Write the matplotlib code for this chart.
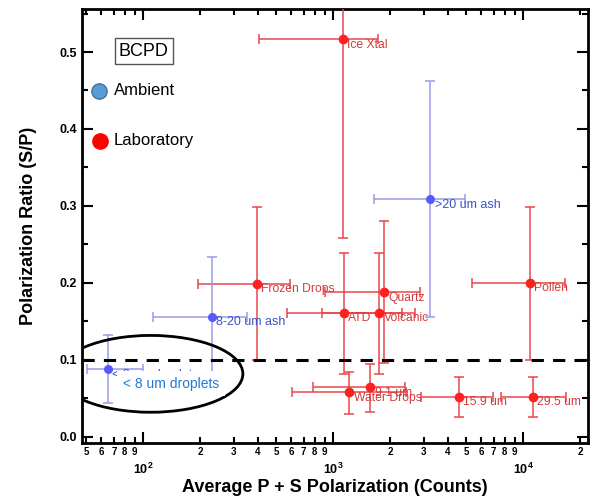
import numpy as np
import matplotlib
matplotlib.use("Agg")
import matplotlib.pyplot as plt
from matplotlib.patches import Ellipse
from matplotlib.ticker import LogLocator, FuncFormatter, MultipleLocator, LogFormatterMathtext

# ---- data ----
# laboratory samples (red)
lab_names = ["Ice Xtal", "Frozen Drops", "Quartz", "ATD", "Volcanic",
             "Pollen", "Water Drops", "9.1 um", "15.9 um", "29.5 um"]
lab_x = [1130, 396, 1860, 1140, 1750, 10800, 1216, 1570, 4580, 11300]
lab_y = [0.517, 0.199, 0.188, 0.161, 0.161, 0.200, 0.058, 0.064, 0.052, 0.052]
lab_x_lo = [405, 195, 908, 571, 875, 5370, 607, 783, 2900, 7600]
lab_x_hi = [1730, 592, 2850, 2290, 2690, 16500, 2430, 2375, 6900, 16700]
lab_y_lo = [0.258, 0.100, 0.096, 0.082, 0.081, 0.100, 0.030, 0.032, 0.026, 0.026]
lab_y_hi = [0.600, 0.299, 0.281, 0.239, 0.239, 0.299, 0.084, 0.095, 0.078, 0.078]

# ambient samples (blue)
amb_names = [">20 um ash", "8-20 um ash", "< 8 um droplets"]
amb_x = [3250, 229, 65.3]
amb_y = [0.309, 0.156, 0.088]
amb_x_lo = [1630, 113, 50.6]
amb_x_hi = [4930, 351, 100]
amb_y_lo = [0.156, 0.075, 0.044]
amb_y_hi = [0.462, 0.234, 0.132]

threshold = 0.1
# --------------------------------------


def err(vals, lo, hi):
    vals = np.asarray(vals)
    return [vals - np.asarray(lo), np.asarray(hi) - vals]


def main():
    plt.rcParams["font.family"] = ["Liberation Sans", "DejaVu Sans"]

    fig = plt.figure(figsize=(5.93, 4.97), dpi=100)
    ax = fig.add_axes([0.138, 0.109, 0.854, 0.873])

    # --- error bars + points ---
    ax.errorbar(lab_x, lab_y,
                xerr=err(lab_x, lab_x_lo, lab_x_hi),
                yerr=err(lab_y, lab_y_lo, lab_y_hi),
                fmt="o", color="#ff2020", ecolor="#e8464b", elinewidth=1.1,
                capsize=3.5, capthick=1.1, markersize=6, zorder=3)
    ax.errorbar(amb_x, amb_y,
                xerr=err(amb_x, amb_x_lo, amb_x_hi),
                yerr=err(amb_y, amb_y_lo, amb_y_hi),
                fmt="o", color="#5858ff", ecolor="#9a9ae6", elinewidth=1.1,
                capsize=3.5, capthick=1.1, markersize=5.5, zorder=3)

    for name, x, y in zip(lab_names, lab_x, lab_y):
        ax.annotate(name, (x, y), xytext=(3, -4), textcoords="offset points",
                    color="#d63a3a", fontsize=8.7, va="center", ha="left", zorder=4)
    for name, x, y in zip(amb_names, amb_x, amb_y):
        ax.annotate(name, (x, y), xytext=(3, -4), textcoords="offset points",
                    color="#3a52c0", fontsize=9, va="center", ha="left", zorder=4)

    # threshold line
    ax.axhline(threshold, color="black", lw=2.2, ls=(0, (4, 3)), zorder=5)

    # circled region of small droplets
    ell = Ellipse((0.136, 0.159), 0.364, 0.177, transform=ax.transAxes,
                  fill=False, ec="black", lw=2, zorder=6)
    ax.add_patch(ell)
    ax.text(0.081, 0.136, "< 8 um droplets", transform=ax.transAxes,
            color="#1f7ad6", fontsize=10, va="center", ha="left", zorder=6,
            bbox=dict(facecolor="white", edgecolor="none", pad=4))

    # --- legend-like annotations ---
    ax.text(0.122, 0.903, "BCPD", transform=ax.transAxes, fontsize=13,
            ha="center", va="center",
            bbox=dict(facecolor="white", edgecolor="#555555", lw=1, pad=3))
    ax.plot([0.034], [0.811], "o", transform=ax.transAxes, ms=11,
            mfc="#5b9bd5", mec="#41719c", clip_on=False)
    ax.text(0.063, 0.811, "Ambient", transform=ax.transAxes, fontsize=12,
            ha="left", va="center")
    ax.plot([0.036], [0.696], "o", transform=ax.transAxes, ms=11,
            mfc="#ff0000", mec="#ff0000", clip_on=False)
    ax.text(0.063, 0.696, "Laboratory", transform=ax.transAxes, fontsize=12,
            ha="left", va="center")

    # --- axes ---
    ax.set_xscale("log")
    ax.set_xlim(47.5, 22000)
    ax.set_ylim(-0.008, 0.556)

    ax.xaxis.set_major_locator(LogLocator(base=10))
    ax.xaxis.set_minor_locator(LogLocator(base=10, subs=np.arange(2, 10)))
    ax.xaxis.set_major_formatter(LogFormatterMathtext())
    ax.xaxis.set_minor_formatter(
        FuncFormatter(lambda v, p: "%d" % round(v / 10 ** np.floor(np.log10(v) + 1e-9))))
    ax.yaxis.set_major_locator(MultipleLocator(0.1))
    ax.yaxis.set_minor_locator(MultipleLocator(0.05))
    ax.yaxis.set_major_formatter(FuncFormatter(lambda v, p: "%.1f" % v))

    ax.tick_params(which="both", direction="in", top=True, right=True, width=1.5)
    ax.tick_params(which="major", length=8)
    ax.tick_params(which="minor", length=4)
    ax.tick_params(axis="x", which="major", pad=14, labelsize=9)
    ax.tick_params(axis="x", which="minor", pad=3, labelsize=7)
    ax.tick_params(axis="y", which="major", labelsize=9)
    for lbl in ax.get_xticklabels(minor=True) + ax.get_yticklabels():
        lbl.set_fontweight("bold")
    for lbl in ax.get_xticklabels():
        lbl.set_fontweight("bold")

    for sp in ax.spines.values():
        sp.set_linewidth(2)

    ax.set_xlabel("Average P + S Polarization (Counts)", fontsize=13,
                  fontweight="bold", labelpad=1)
    ax.set_ylabel("Polarization Ratio (S/P)", fontsize=13, fontweight="bold",
                  labelpad=16)

    fig.savefig("out.png", dpi=100)


if __name__ == "__main__":
    main()
